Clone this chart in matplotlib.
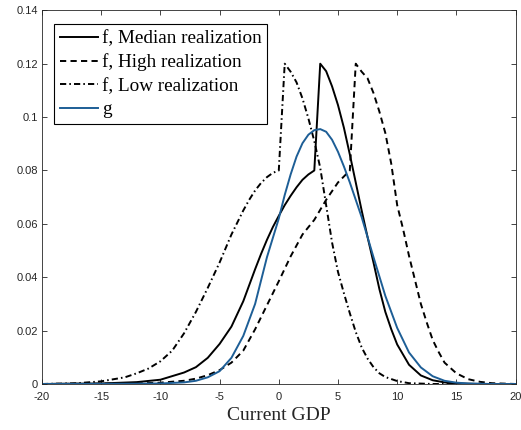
import matplotlib
matplotlib.use("Agg")
import matplotlib.pyplot as plt

# values
x_med = [-20, -15, -12, -10, -8, -7, -6, -5, -4, -3, -2, -1.5, -1, -0.5, 0, 0.5, 1, 1.5, 2, 2.5, 3,
         3.5, 4, 4.5, 5, 5.5, 6, 6.5, 7, 7.5, 8, 8.5, 9, 9.5, 10, 11, 12, 13, 14, 15, 17, 20]
y_med = [0, 0.0002, 0.0007, 0.0016, 0.0043, 0.0063, 0.0098, 0.015, 0.0215, 0.031, 0.043,
         0.0487, 0.054, 0.0588, 0.063, 0.067, 0.0705, 0.0737, 0.0765, 0.0785, 0.080,
         0.120, 0.1172, 0.1115, 0.1045, 0.096, 0.086, 0.0755, 0.065, 0.055, 0.0455, 0.0355,
         0.027, 0.0205, 0.0148, 0.0072, 0.0032, 0.0014, 0.0006, 0.0002, 0.0, 0]

x_high = [-20, -12, -10, -8, -7, -6, -5, -4, -3, -2, -1, 0, 1, 2, 3, 4, 5, 6,
          6.5, 7, 7.5, 8, 8.5, 9, 9.5, 10, 10.5, 11, 11.5, 12, 12.5, 13, 13.5, 14, 15, 16, 17, 18, 20]
y_high = [0, 0.0002, 0.0005, 0.0012, 0.002, 0.0033, 0.0052, 0.008, 0.0125, 0.0205, 0.0295,
          0.0385, 0.0478, 0.056, 0.0615, 0.069, 0.0755, 0.080,
          0.120, 0.117, 0.1145, 0.109, 0.102, 0.094, 0.0825, 0.067, 0.058, 0.048, 0.039,
          0.030, 0.023, 0.0165, 0.012, 0.008, 0.004, 0.0018, 0.0008, 0.0003, 0]

x_low = [-20, -17, -15, -13, -12, -11, -10, -9, -8, -7, -6, -5, -4, -3, -2.5, -2, -1.5, -1, -0.5, 0,
         0.5, 1, 1.5, 2, 2.5, 3, 3.5, 4, 4.5, 5, 5.5, 6, 6.5, 7, 7.5, 8, 8.5, 9, 10, 11, 13, 20]
y_low = [0, 0.0003, 0.001, 0.0025, 0.004, 0.0058, 0.0085, 0.0125, 0.019, 0.027, 0.036,
         0.0455, 0.056, 0.065, 0.069, 0.0725, 0.0753, 0.0775, 0.0791, 0.080,
         0.120, 0.117, 0.113, 0.107, 0.0995, 0.091, 0.081, 0.067, 0.053, 0.042, 0.034,
         0.0265, 0.0195, 0.0137, 0.0095, 0.0063, 0.004, 0.0026, 0.0011, 0.0003, 0, 0]

x_g = [-20, -12, -10, -8, -7, -6, -5, -4, -3, -2, -1, 0, 0.5, 1, 1.5, 2, 2.5, 3, 3.5, 4, 4.5,
       5, 5.5, 6, 7, 8, 9, 10, 11, 12, 13, 14, 15, 16, 18, 20]
y_g = [0, 0.0001, 0.0002, 0.0006, 0.0012, 0.0025, 0.0048, 0.0098, 0.018, 0.030, 0.0475,
       0.062, 0.0708, 0.0785, 0.0852, 0.0902, 0.0934, 0.0951, 0.0955, 0.0945, 0.0915,
       0.087, 0.0815, 0.0755, 0.0625, 0.0475, 0.033, 0.021, 0.0118, 0.0062, 0.0029, 0.0012,
       0.0005, 0.0002, 0, 0]

x_ticks = [-20, -15, -10, -5, 0, 5, 10, 15, 20]
y_ticks = [0, 0.02, 0.04, 0.06, 0.08, 0.1, 0.12, 0.14]
y_ticklabels = ['0', '0.02', '0.04', '0.06', '0.08', '0.1', '0.12', '0.14']

axis_col = '#262626'
blue = '#1d5e96'
serif = 'Liberation Serif'

fig = plt.figure(figsize=(5.21, 4.30), dpi=100)
ax = fig.add_axes([0.0806, 0.107, 0.909, 0.869])

lw = 1.4
ax.plot(x_med, y_med, color='black', lw=lw, label='f, Median realization')
ax.plot(x_high, y_high, color='black', lw=lw, linestyle=(0, (3.2, 2.2)),
        label='f, High realization')
ax.plot(x_low, y_low, color='black', lw=lw, linestyle=(0, (3.2, 1.6, 0.8, 1.6)),
        label='f, Low realization')
ax.plot(x_g, y_g, color=blue, lw=lw, label='g')

ax.set_xlim(-20, 20)
ax.set_ylim(0, 0.14)
ax.set_xticks(x_ticks)
ax.set_xticklabels([str(t) for t in x_ticks])
ax.set_yticks(y_ticks)
ax.set_yticklabels(y_ticklabels)

ax.tick_params(direction='in', length=3.4, width=0.6, colors=axis_col,
               top=True, right=True, labelsize=8)
ax.tick_params(axis='x', pad=5.5)
ax.tick_params(axis='y', pad=3)
for lab in ax.get_xticklabels() + ax.get_yticklabels():
    lab.set_fontfamily('Liberation Sans')
for sp in ax.spines.values():
    sp.set_color(axis_col)
    sp.set_linewidth(0.6)

ax.set_xlabel('Current GDP', fontfamily=serif, fontsize=14, color=axis_col, labelpad=4)

leg = ax.legend(loc='upper left', bbox_to_anchor=(0.025, 0.963), borderaxespad=0,
                prop={'family': serif, 'size': 13.8}, frameon=True, fancybox=False,
                handlelength=2.0, handletextpad=0.2, labelspacing=0.32,
                borderpad=0.3)
leg.get_frame().set_edgecolor('black')
leg.get_frame().set_linewidth(0.8)
leg.get_frame().set_alpha(1)

fig.savefig('out.png', dpi=100)
